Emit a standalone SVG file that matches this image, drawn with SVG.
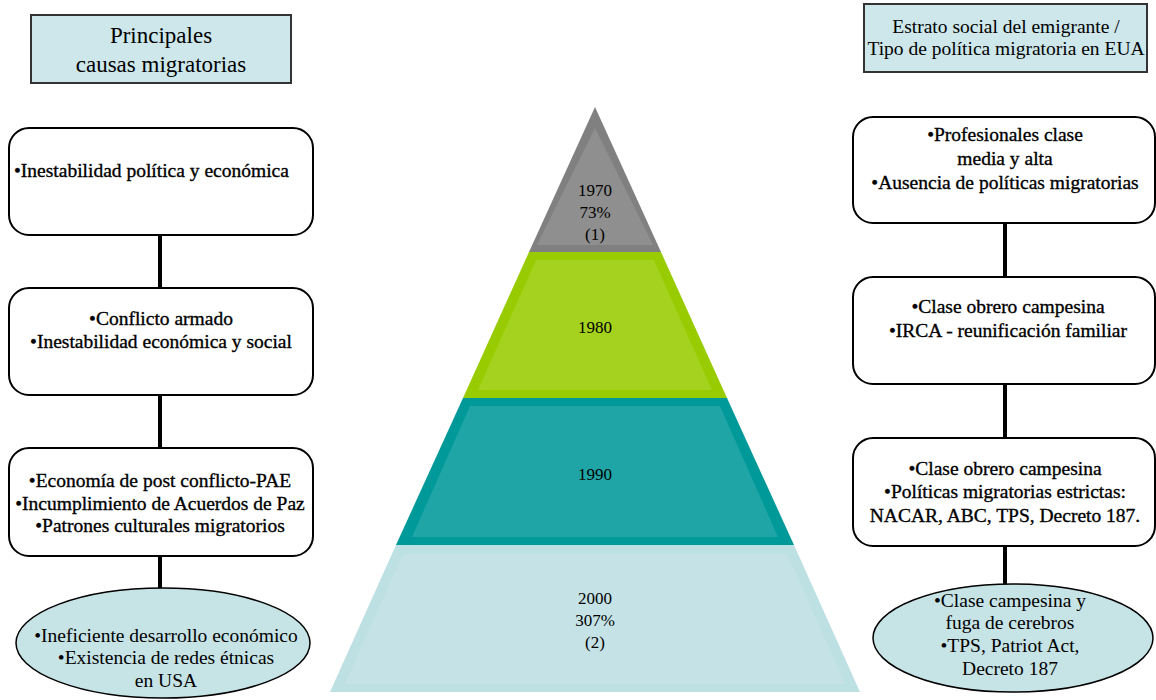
<svg xmlns="http://www.w3.org/2000/svg" width="1156" height="700" viewBox="0 0 1156 700">
<style>
text{font-family:"Liberation Serif","Times New Roman",serif;fill:#000;text-anchor:middle}
.hdr{fill:#cde7ea;stroke:#333;stroke-width:2}
.hd{font-size:23px}
.hd2{font-size:19.5px}
.box{fill:#fff;stroke:#000;stroke-width:2}
.bt{font-size:19.5px;stroke:#000;stroke-width:0.35}
.ell{fill:#c6e3e6;stroke:#000;stroke-width:1.5}
.et{font-size:19.5px}
.pt{font-size:17px}
.con{stroke:#000;stroke-width:4;fill:none}
</style>
<g id="pyramid">
<g id="tier1970">
<polygon points="595,107 661,252 529,252" fill="#808080"/>
<polygon points="595,128 653,245 537,245" fill="#8f8f8f"/>
<text class="pt" x="595" y="196">1970</text>
<text class="pt" x="595" y="218">73%</text>
<text class="pt" x="595" y="240">(1)</text>
</g>
<g id="tier1980">
<polygon points="529,252 661,252 727,398 463,398" fill="#99cc00"/>
<polygon points="536,260 654,260 712,390 478,390" fill="#a5d21e"/>
<text class="pt" x="595" y="333">1980</text>
</g>
<g id="tier1990">
<polygon points="463,398 727,398 794,545 396,545" fill="#009999"/>
<polygon points="470,406 720,406 778,537 412,537" fill="#1fa5a5"/>
<text class="pt" x="595" y="480">1990</text>
</g>
<g id="tier2000">
<polygon points="396,545 794,545 860,692 330,692" fill="#bde0e3"/>
<polygon points="403,554 787,554 845,684 345,684" fill="#c5e3e6"/>
<text class="pt" x="595" y="604">2000</text>
<text class="pt" x="595" y="626">307%</text>
<text class="pt" x="595" y="648">(2)</text>
</g>
</g>
<g id="connectors">
<line class="con" x1="160" y1="235" x2="160" y2="288"/>
<line class="con" x1="160" y1="395" x2="160" y2="448"/>
<line class="con" x1="160" y1="556" x2="160" y2="590"/>
<line class="con" x1="1005" y1="223" x2="1005" y2="277"/>
<line class="con" x1="1005" y1="384" x2="1005" y2="438"/>
<line class="con" x1="1005" y1="546" x2="1005" y2="585"/>
</g>
<g id="header-left">
<rect class="hdr" x="31" y="15" width="260" height="68"/>
<text class="hd" x="161" y="43">Principales</text>
<text class="hd" x="161" y="72">causas migratorias</text>
</g>
<g id="header-right">
<rect class="hdr" x="864" y="4" width="283" height="68"/>
<text class="hd2" x="1006" y="33">Estrato social del emigrante /</text>
<text class="hd2" x="1006" y="55">Tipo de política migratoria en EUA</text>
</g>
<g id="left1">
<rect class="box" x="9" y="128" width="304" height="107" rx="20"/>
<text class="bt" x="14" y="177" style="text-anchor:start">•Inestabilidad política y económica</text>
</g>
<g id="left2">
<rect class="box" x="9" y="288" width="304" height="107" rx="20"/>
<text class="bt" x="161" y="325">•Conflicto armado</text>
<text class="bt" x="161" y="348">•Inestabilidad económica y social</text>
</g>
<g id="left3">
<rect class="box" x="9" y="448" width="304" height="108" rx="20"/>
<text class="bt" x="160" y="487">•Economía de post conflicto-PAE</text>
<text class="bt" x="160" y="510">•Incumplimiento de Acuerdos de Paz</text>
<text class="bt" x="160" y="532">•Patrones culturales migratorios</text>
</g>
<g id="left4">
<ellipse class="ell" cx="163" cy="643" rx="147" ry="55"/>
<text class="et" x="166" y="642">•Ineficiente desarrollo económico</text>
<text class="et" x="166" y="664">•Existencia de redes étnicas</text>
<text class="et" x="166" y="687">en USA</text>
</g>
<g id="right1">
<rect class="box" x="853" y="117" width="302" height="106" rx="20"/>
<text class="bt" x="1005" y="141">•Profesionales clase</text>
<text class="bt" x="1005" y="165">media y alta</text>
<text class="bt" x="1005" y="189">•Ausencia de políticas migratorias</text>
</g>
<g id="right2">
<rect class="box" x="853" y="277" width="302" height="107" rx="20"/>
<text class="bt" x="1008" y="313">•Clase obrero campesina</text>
<text class="bt" x="1008" y="337">•IRCA - reunificación familiar</text>
</g>
<g id="right3">
<rect class="box" x="853" y="438" width="302" height="108" rx="20"/>
<text class="bt" x="1005" y="475">•Clase obrero campesina</text>
<text class="bt" x="1005" y="498">•Políticas migratorias estrictas:</text>
<text class="bt" x="1005" y="522">NACAR, ABC, TPS, Decreto 187.</text>
</g>
<g id="right4">
<ellipse class="ell" cx="1013" cy="638" rx="140" ry="54"/>
<text class="et" x="1010" y="607">•Clase campesina y</text>
<text class="et" x="1010" y="629">fuga de cerebros</text>
<text class="et" x="1010" y="652">•TPS, Patriot Act,</text>
<text class="et" x="1010" y="675">Decreto 187</text>
</g>
</svg>
